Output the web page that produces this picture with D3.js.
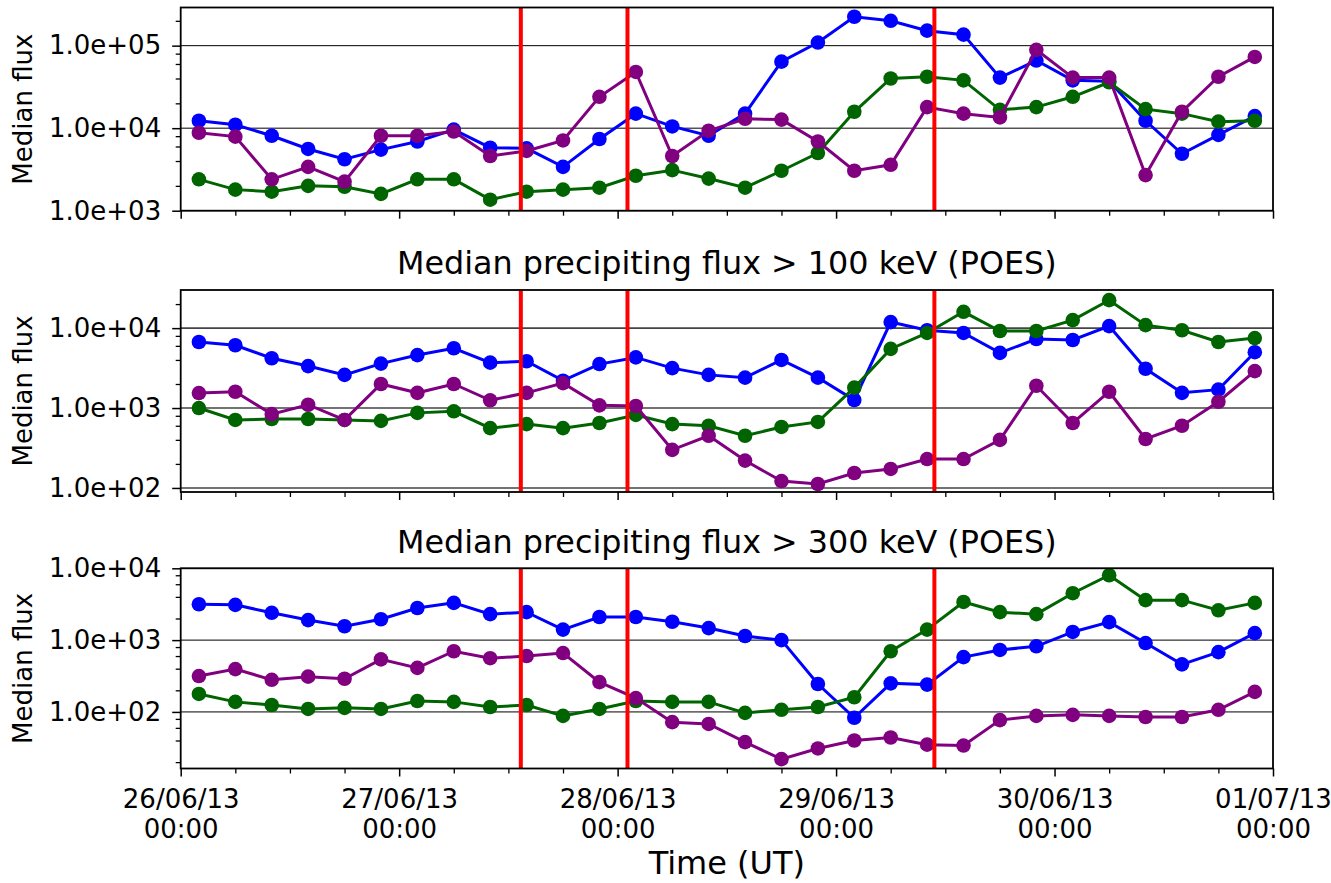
<!DOCTYPE html>
<html>
<head>
<meta charset="utf-8">
<script src="https://cdn.jsdelivr.net/npm/d3@7"></script>
<style>
body { margin: 0; background: #fff; }
text { font-family: "DejaVu Sans", sans-serif; fill: #000; }
</style>
</head>
<body>
<svg id="chart" width="1331" height="883"></svg>
<script>
// sample times (UT), one every 4 hours
var times = ["2013-06-26T02:00Z","2013-06-26T06:00Z","2013-06-26T10:00Z","2013-06-26T14:00Z","2013-06-26T18:00Z","2013-06-26T22:00Z",
             "2013-06-27T02:00Z","2013-06-27T06:00Z","2013-06-27T10:00Z","2013-06-27T14:00Z","2013-06-27T18:00Z","2013-06-27T22:00Z",
             "2013-06-28T02:00Z","2013-06-28T06:00Z","2013-06-28T10:00Z","2013-06-28T14:00Z","2013-06-28T18:00Z","2013-06-28T22:00Z",
             "2013-06-29T02:00Z","2013-06-29T06:00Z","2013-06-29T10:00Z","2013-06-29T14:00Z","2013-06-29T18:00Z","2013-06-29T22:00Z",
             "2013-06-30T02:00Z","2013-06-30T06:00Z","2013-06-30T10:00Z","2013-06-30T14:00Z","2013-06-30T18:00Z","2013-06-30T22:00Z"];

// top panel
var p1Blue   = [12300,11000,8100,5600,4200,5500,6900,9600,5800,5700,3400,7400,15000,10500,8100,15000,64000,109000,224000,200000,152000,136000,41000,66000,38000,37000,12300,4900,8300,14000];
var p1Green  = [2400,1800,1700,2000,1950,1600,2400,2400,1360,1700,1800,1900,2650,3100,2450,1900,3050,5000,15800,40000,42000,38000,16700,18000,24000,36000,17000,15000,12000,12300];
var p1Purple = [8800,7900,2400,3400,2250,8100,8100,9100,4600,5300,7100,24000,48000,4600,9300,13000,12700,6900,3050,3600,18000,15000,13500,89000,41000,41000,2700,15800,42000,73000];

// > 100 keV
var p2Blue   = [6700,6100,4200,3350,2600,3600,4600,5600,3700,3850,2200,3550,4300,3160,2600,2400,4000,2400,1260,11900,9400,8700,4900,7300,7100,10600,3100,1550,1700,5000];
var p2Green  = [1000,710,730,730,710,690,870,910,560,630,560,650,820,630,600,450,580,670,1800,5500,8700,16000,9200,9200,12600,22400,10900,9400,6700,7500];
var p2Purple = [1540,1600,840,1100,710,2000,1550,2000,1250,1550,2050,1080,1060,300,450,220,122,112,154,173,230,230,400,1900,650,1600,410,600,1200,2900];

// > 300 keV
var p3Blue   = [3160,3100,2400,1900,1560,1950,2800,3300,2300,2450,1400,2100,2100,1800,1470,1140,1000,245,83,250,240,580,730,820,1300,1780,910,460,680,1250];
var p3Green  = [178,138,125,110,114,110,142,138,117,125,88,110,142,138,138,97,107,117,160,700,1400,3400,2450,2300,4500,8000,3600,3600,2600,3300];
var p3Purple = [316,395,280,310,290,540,410,700,560,600,660,260,156,72,68,38,22,31,40,44,35,34,77,88,91,88,85,85,107,190];

// event markers (red lines)
var eventTimes = ["2013-06-27T13:22Z","2013-06-28T01:05Z","2013-06-29T10:48Z"];

var titles = ["", "Median precipiting flux > 100 keV (POES)", "Median precipiting flux > 300 keV (POES)"];
var yDomains = [[1000, 290000], [89, 30000], [16.3, 10000]];
var yMajor = [[1e3, 1e4, 1e5], [1e2, 1e3, 1e4], [1e2, 1e3, 1e4]];
var seriesColors = ["#0000ff", "#006400", "#800080"];

var panelData = [[p1Blue, p1Green, p1Purple], [p2Blue, p2Green, p2Purple], [p3Blue, p3Green, p3Purple]];

var svg = d3.select("#chart");
var left = 180.7, right = 1273;
var panels = [{top: 7.5, bottom: 210.7, grid: "#000", gw: 1},
              {top: 290, bottom: 492, grid: "#444", gw: 1.6},
              {top: 568.3, bottom: 768.5, grid: "#000", gw: 1}];

var parse = d3.isoParse;
var tDates = times.map(parse);

var x = d3.scaleUtc()
    .domain([parse("2013-06-26T00:00Z"), parse("2013-07-01T00:00Z")])
    .range([left, right]);

var sci = function(v) {
    var e = Math.round(Math.log10(v));
    var m = v / Math.pow(10, e);
    return m.toFixed(1) + "e" + (e < 0 ? "-" : "+") + String(Math.abs(e)).padStart(2, "0");
};

var minorLog = function(dom) {
    var out = [];
    var lo = Math.floor(Math.log10(dom[0])), hi = Math.ceil(Math.log10(dom[1]));
    for (var k = lo; k <= hi; k++) {
        [2, 4, 6, 8].forEach(function(s) {
            var v = s * Math.pow(10, k);
            if (v >= dom[0] && v <= dom[1]) out.push(v);
        });
    }
    return out;
};

var xMinor = x.ticks(d3.utcHour.every(6)).filter(function(d) { return d.getUTCHours() != 0; });

panels.forEach(function(p, i) {
    var y = d3.scaleLog().domain(yDomains[i]).range([p.bottom, p.top]);
    var g = svg.append("g").attr("class", "panel" + i);

    // grid at major ticks
    g.append("g").selectAll("line")
        .data(yMajor[i])
        .enter().append("line")
        .attr("x1", left).attr("x2", right)
        .attr("y1", function(d) { return y(d); })
        .attr("y2", function(d) { return y(d); })
        .attr("stroke", p.grid)
        .attr("stroke-width", p.gw);

    // series
    var line = d3.line()
        .x(function(d) { return x(d.t); })
        .y(function(d) { return y(d.v); });

    panelData[i].forEach(function(vals, s) {
        var pts = vals.map(function(v, j) { return {t: tDates[j], v: v}; });
        g.append("path")
            .datum(pts)
            .attr("d", line)
            .attr("fill", "none")
            .attr("stroke", seriesColors[s])
            .attr("stroke-width", 3);
        g.append("g").selectAll("circle")
            .data(pts)
            .enter().append("circle")
            .attr("cx", function(d) { return x(d.t); })
            .attr("cy", function(d) { return y(d.v); })
            .attr("r", 7.3)
            .attr("fill", seriesColors[s]);
    });

    // red event lines
    g.append("g").selectAll("line")
        .data(eventTimes.map(parse))
        .enter().append("line")
        .attr("x1", function(d) { return x(d); })
        .attr("x2", function(d) { return x(d); })
        .attr("y1", p.top).attr("y2", p.bottom)
        .attr("stroke", "#ff0000")
        .attr("stroke-width", 4);

    // frame
    g.append("rect")
        .attr("x", left).attr("y", p.top)
        .attr("width", right - left).attr("height", p.bottom - p.top)
        .attr("fill", "none")
        .attr("stroke", "#000")
        .attr("stroke-width", 1.8);

    // y axis
    var yAxis = d3.axisLeft(y).tickValues(yMajor[i]).tickFormat(sci).tickSize(8.5).tickPadding(11);
    var ya = g.append("g").attr("transform", "translate(" + left + ",0)").call(yAxis);
    ya.select(".domain").remove();
    ya.selectAll("line").attr("stroke-width", 1.5);
    ya.selectAll("text").attr("font-size", 26).attr("font-family", "DejaVu Sans");

    var yMin = d3.axisLeft(y).tickValues(minorLog(yDomains[i])).tickFormat("").tickSize(5);
    var ym = g.append("g").attr("transform", "translate(" + left + ",0)").call(yMin);
    ym.select(".domain").remove();
    ym.selectAll("line").attr("stroke-width", 1.3);

    // x axis
    var xAxis = d3.axisBottom(x).ticks(d3.utcDay.every(1)).tickSize(8).tickFormat("");
    var xa = g.append("g").attr("transform", "translate(0," + p.bottom + ")").call(xAxis);
    xa.select(".domain").remove();
    xa.selectAll("line").attr("stroke-width", 1.5);

    var xMin = d3.axisBottom(x).tickValues(xMinor).tickSize(5).tickFormat("");
    var xm = g.append("g").attr("transform", "translate(0," + p.bottom + ")").call(xMin);
    xm.select(".domain").remove();
    xm.selectAll("line").attr("stroke-width", 1.3);

    if (i == 2) {
        var dayFmt = d3.utcFormat("%d/%m/%y");
        var hrFmt = d3.utcFormat("%H:%M");
        xa.selectAll(".tick").each(function(d) {
            var t = d3.select(this).append("text")
                .attr("text-anchor", "middle")
                .attr("font-size", 26)
                .attr("font-family", "DejaVu Sans")
                .attr("fill", "#000");
            t.append("tspan").attr("x", 0).attr("y", 39.5).text(dayFmt(d));
            t.append("tspan").attr("x", 0).attr("y", 69.5).text(hrFmt(d));
        });
    }

    // y label
    g.append("text")
        .attr("transform", "translate(32," + ((p.top + p.bottom) / 2) + ") rotate(-90)")
        .attr("text-anchor", "middle")
        .attr("font-size", 26)
        .text("Median flux");

    // title
    if (titles[i]) {
        g.append("text")
            .attr("x", (left + right) / 2)
            .attr("y", p.top - 15.6)
            .attr("text-anchor", "middle")
            .attr("font-size", 31.8)
            .text(titles[i]);
    }
});

svg.append("text")
    .attr("x", (left + right) / 2)
    .attr("y", 874)
    .attr("text-anchor", "middle")
    .attr("font-size", 32)
    .text("Time (UT)");
</script>
</body>
</html>
